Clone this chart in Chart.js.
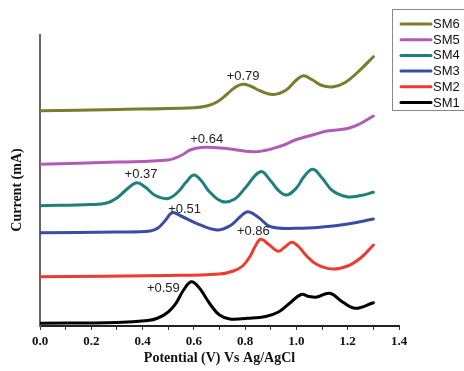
<!DOCTYPE html>
<html>
<head>
<meta charset="utf-8">
<script src="https://cdn.jsdelivr.net/npm/chart.js@4/dist/chart.umd.min.js"></script>
<style>
  html, body { margin: 0; padding: 0; background: #fff; }
  #wrap { width: 464px; height: 371px; }
</style>
</head>
<body>
<div id="wrap"><canvas id="cv" width="464" height="371"></canvas></div>
<script>
// --- Data (potential in V, current in arbitrary stacked units) ---
const SM6_X = [0.0, 0.3, 0.6, 0.65, 0.69, 0.73, 0.76, 0.79, 0.82, 0.86, 0.91, 0.96, 1.0, 1.027, 1.06, 1.10, 1.144, 1.19, 1.24, 1.30];
const SM6_Y = [215.3, 216.5, 218.3, 220, 224, 232, 238.5, 241.7, 240, 235, 231.5, 236, 246, 250.3, 246.5, 240.5, 239.3, 243.5, 254, 269.3];

const SM5_X = [0.0, 0.3, 0.5, 0.55, 0.59, 0.64, 0.72, 0.84, 0.94, 1.0, 1.07, 1.12, 1.2, 1.25, 1.30];
const SM5_Y = [161.7, 164, 166, 170.5, 176.5, 178.7, 177.7, 174.3, 180, 186.5, 191.5, 195, 197.5, 202.5, 210];

const SM4_X = [0.0, 0.2, 0.26, 0.30, 0.34, 0.377, 0.41, 0.45, 0.50, 0.54, 0.57, 0.60, 0.63, 0.66, 0.71, 0.76, 0.80, 0.86, 0.90, 0.93, 0.962, 1.0, 1.03, 1.064, 1.10, 1.14, 1.196, 1.25, 1.30];
const SM4_Y = [120.3, 121.5, 123, 128, 137, 143.3, 139, 130.5, 127.5, 134.5, 144, 151, 145, 134.5, 124.5, 127, 138, 154.3, 145, 135.5, 131, 138, 149.5, 156.7, 148, 135.5, 129.3, 130.5, 133.7];

const SM3_X = [0.0, 0.3, 0.43, 0.46, 0.49, 0.515, 0.55, 0.61, 0.69, 0.74, 0.78, 0.81, 0.85, 0.90, 1.0, 1.1, 1.2, 1.30];
const SM3_Y = [93.3, 94, 95, 98, 106, 113.3, 110, 102.7, 96, 100, 109, 114.3, 109, 99.3, 97.7, 99, 102, 107];

const SM2_X = [0.0, 0.5, 0.7, 0.754, 0.79, 0.82, 0.84, 0.861, 0.89, 0.928, 0.955, 0.982, 1.01, 1.04, 1.08, 1.14, 1.20, 1.25, 1.30];
const SM2_Y = [49.3, 50.5, 52, 55, 60, 70, 80, 86.8, 82, 74.8, 79, 83.8, 79, 70, 61.5, 57, 60, 68, 81];

const SM1_X = [0.0, 0.3, 0.42, 0.46, 0.50, 0.53, 0.56, 0.59, 0.62, 0.65, 0.67, 0.70, 0.74, 0.81, 0.88, 0.93, 0.97, 1.018, 1.05, 1.08, 1.13, 1.18, 1.23, 1.30];
const SM1_Y = [2.7, 3.5, 5.5, 8, 14, 22.7, 36, 44.3, 38.5, 27, 19.5, 11, 7, 7.7, 9.5, 14, 22, 31.5, 29.5, 29, 32.7, 24, 17.7, 23.3];

// peak labels: text, potential, height
const PEAK_TEXT = ['+0.79', '+0.64', '+0.37', '+0.51', '+0.86', '+0.59'];
const PEAK_X = [0.792, 0.650, 0.394, 0.564, 0.832, 0.481];
const PEAK_Y = [249.3, 186.7, 152, 117, 94.3, 37.7];

const SERIES = [
    { label: 'SM6', xs: SM6_X, ys: SM6_Y, color: '#7b7d2d' },
    { label: 'SM5', xs: SM5_X, ys: SM5_Y, color: '#b25bb5' },
    { label: 'SM4', xs: SM4_X, ys: SM4_Y, color: '#1e7f7c' },
    { label: 'SM3', xs: SM3_X, ys: SM3_Y, color: '#3a4ca3' },
    { label: 'SM2', xs: SM2_X, ys: SM2_Y, color: '#f03a30' },
    { label: 'SM1', xs: SM1_X, ys: SM1_Y, color: '#000000' }
];

const SERIF = "'Liberation Serif', 'Times New Roman', serif";
const SANS = "'Liberation Sans', Arial, sans-serif";

function toPoints(xs, ys) {
    return xs.map((x, i) => ({ x: x, y: ys[i] }));
}

// draws peak labels, the y title and the legend box
const extras = {
    id: 'extras',
    afterDraw(chart) {
        const ctx = chart.ctx;
        const xs = chart.scales.x, ys = chart.scales.y;
        ctx.save();

        // peak labels
        ctx.font = '13px ' + SANS;
        ctx.fillStyle = '#222';
        ctx.textAlign = 'center';
        ctx.textBaseline = 'middle';
        PEAK_TEXT.forEach((t, i) => {
            ctx.fillText(t, xs.getPixelForValue(PEAK_X[i]), ys.getPixelForValue(PEAK_Y[i]));
        });

        // y title
        ctx.save();
        ctx.translate(17, 190);
        ctx.rotate(-Math.PI / 2);
        ctx.font = 'bold 14px ' + SERIF;
        ctx.fillStyle = '#111';
        ctx.fillText('Current (mA)', 0, 0);
        ctx.restore();

        // legend
        ctx.strokeStyle = '#888';
        ctx.lineWidth = 1;
        ctx.strokeRect(392.5, 9.5, 76, 101);
        ctx.font = '13px ' + SANS;
        ctx.textAlign = 'left';
        ctx.fillStyle = '#111';
        SERIES.forEach((s, i) => {
            const y = 24 + i * 15.7;
            ctx.strokeStyle = s.color;
            ctx.lineWidth = 3;
            ctx.lineCap = 'round';
            ctx.beginPath();
            ctx.moveTo(401, y);
            ctx.lineTo(431, y);
            ctx.stroke();
            ctx.fillText(s.label, 433, y + 0.5);
        });
        ctx.restore();
    }
};

new Chart(document.getElementById('cv').getContext('2d'), {
    type: 'line',
    data: {
        datasets: SERIES.map(s => ({
            label: s.label,
            data: toPoints(s.xs, s.ys),
            borderColor: s.color,
            borderWidth: 3,
            pointRadius: 0,
            fill: false,
            tension: 0.4,
            borderCapStyle: 'round',
            borderJoinStyle: 'round'
        }))
    },
    options: {
        responsive: false,
        animation: false,
        layout: { padding: { top: 35, right: 65, left: 0, bottom: 0 } },
        plugins: { legend: { display: false }, tooltip: { enabled: false } },
        scales: {
            x: {
                type: 'linear',
                min: 0, max: 1.4,
                afterFit: (s) => { s.height = 45; },
                grid: { display: true, drawOnChartArea: false, drawTicks: true, tickLength: 4, color: '#333', lineWidth: 1 },
                border: { display: true, color: '#222', width: 2 },
                ticks: {
                    stepSize: 0.1,
                    autoSkip: false,
                    maxRotation: 0,
                    padding: 4,
                    color: '#111',
                    font: { family: SERIF, size: 13, weight: 'bold' },
                    callback: (v, i) => (i % 2 === 0 ? v.toFixed(1) : '')
                },
                title: {
                    display: true,
                    text: 'Potential (V) Vs Ag/AgCl',
                    color: '#111',
                    font: { family: SERIF, size: 14, weight: 'bold' },
                    padding: { top: 0, bottom: 4 }
                }
            },
            y: {
                type: 'linear',
                min: 0, max: 291,
                afterFit: (s) => { s.width = 40; },
                grid: { display: false },
                border: { display: true, color: '#666', width: 2 },
                ticks: { display: false }
            }
        }
    },
    plugins: [extras]
});
</script>
</body>
</html>
